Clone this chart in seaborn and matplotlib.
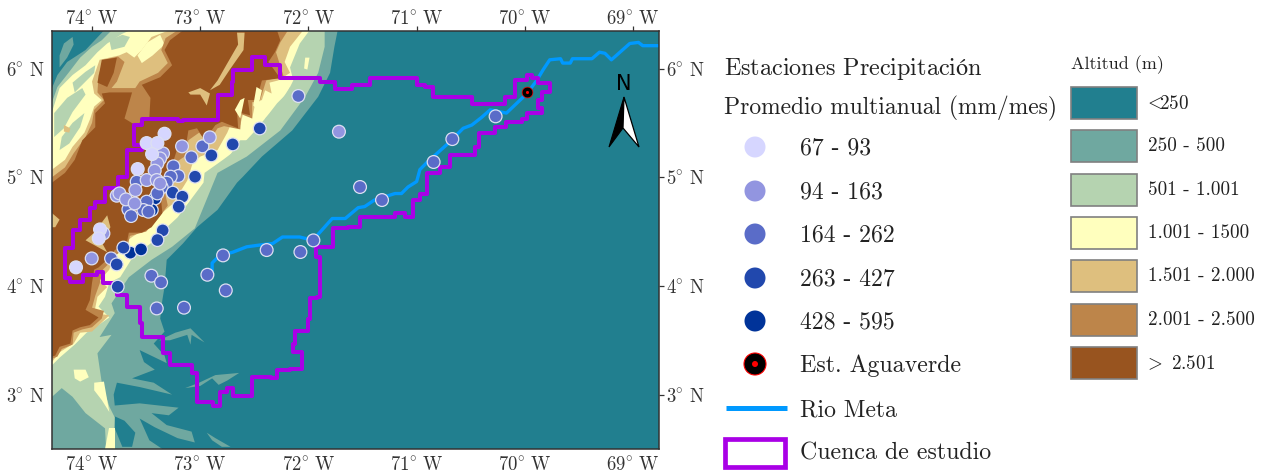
import matplotlib
matplotlib.use('Agg')
import matplotlib.pyplot as plt
import matplotlib.patches as mpatches
import pandas as pd
import seaborn as sns

# estaciones (lon, lat) por rango de precipitacion
est_67_93 = [(-73.33, 5.40), (-73.495, 5.314), (-73.396, 5.314), (-73.445, 5.213), (-73.578, 5.075),
             (-73.926, 4.52), (-73.938, 4.437), (-74.148, 4.171)]
est_94_163 = [(-72.912, 5.367), (-73.168, 5.284), (-73.344, 5.219), (-73.371, 5.173), (-73.396, 5.127),
              (-73.421, 5.06), (-73.495, 4.974), (-73.402, 4.974), (-73.371, 4.943), (-73.599, 4.882),
              (-73.772, 4.83), (-73.747, 4.851), (-73.686, 4.796), (-73.606, 4.759), (-74.003, 4.253),
              (-73.895, 4.483), (-71.718, 5.419)]
est_164_262 = [(-72.98, 5.284), (-73.082, 5.183), (-73.248, 5.10), (-73.202, 5.011), (-73.273, 5.005),
               (-73.587, 4.959), (-73.31, 4.95), (-73.356, 4.907), (-73.396, 4.851), (-73.495, 4.775),
               (-73.664, 4.704), (-73.639, 4.643), (-73.525, 4.698), (-73.479, 4.683), (-73.824, 4.253),
               (-73.451, 4.094), (-73.362, 4.033), (-73.402, 3.793), (-73.15, 3.80), (-72.934, 4.103),
               (-72.764, 3.959), (-72.789, 4.281), (-72.386, 4.33), (-72.074, 4.312), (-71.954, 4.419),
               (-72.093, 5.747), (-71.523, 4.91), (-71.32, 4.79), (-70.843, 5.14), (-70.67, 5.351),
               (-70.27, 5.56)]
est_263_427 = [(-72.897, 5.201), (-72.70, 5.302), (-72.45, 5.449), (-73.048, 5.005), (-73.254, 4.858),
               (-73.165, 4.821), (-73.199, 4.729), (-73.347, 4.511), (-73.396, 4.422), (-73.71, 4.352),
               (-73.772, 4.198), (-73.763, 3.993)]
est_428_595 = [(-73.418, 4.805), (-73.448, 4.698), (-73.646, 4.306), (-73.547, 4.336)]
aguaverde = (-69.977, 5.787)

rangos = ['67 - 93', '94 - 163', '164 - 262', '263 - 427', '428 - 595']
colores_est = ['#D6D6FF', '#9295E0', '#5A6CC8', '#2148AD', '#003399']

rio_meta = [(-72.89, 4.12), (-72.89, 4.21), (-72.82, 4.28), (-72.70, 4.31), (-72.57, 4.36), (-72.42, 4.38),
            (-72.33, 4.39), (-72.24, 4.45), (-72.08, 4.45), (-71.96, 4.42), (-71.78, 4.62), (-71.66, 4.62),
            (-71.54, 4.72), (-71.48, 4.73), (-71.39, 4.79), (-71.20, 4.85), (-71.14, 4.85), (-71.08, 4.91),
            (-71.00, 4.96), (-70.97, 5.07), (-70.90, 5.14), (-70.71, 5.31), (-70.57, 5.45), (-70.49, 5.48),
            (-70.40, 5.55), (-70.32, 5.62), (-70.17, 5.59), (-69.98, 5.77), (-69.89, 5.89), (-69.83, 5.99),
            (-69.77, 6.08), (-69.67, 6.09), (-69.65, 6.05), (-69.58, 6.05), (-69.56, 6.09), (-69.38, 6.09),
            (-69.31, 6.15), (-69.26, 6.14), (-69.20, 6.08), (-69.03, 6.23), (-68.95, 6.24), (-68.91, 6.21),
            (-68.77, 6.21)]

cuenca = [(-74.25, 4.24), (-74.25, 4.07), (-74.20, 4.04), (-74.08, 4.10), (-73.95, 4.13), (-73.90, 4.03),
          (-73.77, 3.92), (-73.68, 3.81), (-73.56, 3.66), (-73.54, 3.53), (-73.34, 3.38), (-73.28, 3.27),
          (-73.08, 3.20), (-73.03, 2.93), (-72.88, 2.90), (-72.82, 3.02), (-72.75, 3.06), (-72.70, 2.99),
          (-72.60, 2.99), (-72.52, 3.16), (-72.35, 3.15), (-72.29, 3.23), (-72.17, 3.24), (-72.06, 3.39),
          (-72.14, 3.47), (-72.12, 3.59), (-72.00, 3.70), (-71.99, 3.89), (-71.92, 3.90), (-71.89, 4.04),
          (-71.89, 4.27), (-71.93, 4.36), (-71.77, 4.40), (-71.77, 4.53), (-71.63, 4.54), (-71.52, 4.63),
          (-71.20, 4.67), (-71.11, 4.63), (-71.03, 4.70), (-71.03, 4.79), (-70.97, 4.85), (-70.90, 4.93),
          (-70.90, 5.04), (-70.78, 5.09), (-70.69, 5.20), (-70.53, 5.20), (-70.46, 5.28), (-70.42, 5.41),
          (-70.28, 5.46), (-70.17, 5.51), (-70.03, 5.54), (-69.98, 5.59), (-69.84, 5.64), (-69.88, 5.71),
          (-69.84, 5.78), (-69.77, 5.80), (-69.77, 5.87), (-69.88, 5.91), (-69.93, 5.94), (-69.98, 5.89),
          (-70.09, 5.74), (-70.16, 5.74), (-70.18, 5.67), (-70.39, 5.67), (-70.49, 5.74), (-70.78, 5.74),
          (-70.85, 5.83), (-70.92, 5.85), (-71.00, 5.91), (-71.36, 5.91), (-71.43, 5.85), (-71.59, 5.85),
          (-71.60, 5.81), (-71.73, 5.81), (-71.75, 5.88), (-71.87, 5.88), (-71.89, 5.91), (-72.12, 5.91),
          (-72.26, 6.03), (-72.40, 6.11), (-72.52, 6.11), (-72.52, 5.99), (-72.60, 5.99), (-72.70, 5.88),
          (-72.71, 5.76), (-72.84, 5.68), (-72.84, 5.53), (-73.16, 5.52), (-73.21, 5.54), (-73.42, 5.54),
          (-73.54, 5.48), (-73.61, 5.41), (-73.61, 5.30), (-73.54, 5.25), (-73.68, 5.18), (-73.68, 5.00),
          (-73.76, 4.90), (-73.88, 4.77), (-73.97, 4.72), (-74.02, 4.61), (-74.11, 4.51), (-74.18, 4.35),
          (-74.25, 4.24)]

# bandas de altitud, una encima de otra
banda_250 = [(-73.89, 6.35), (-71.73, 6.35), (-71.76, 6.20), (-71.80, 5.96), (-71.91, 5.74), (-72.15, 5.43),
             (-72.43, 5.19), (-72.61, 5.00), (-72.66, 4.95), (-72.84, 4.70), (-73.03, 4.54), (-73.16, 4.39),
             (-73.31, 4.24), (-73.33, 3.99), (-73.35, 3.87), (-73.37, 3.70), (-73.33, 3.58), (-73.43, 3.47),
             (-73.33, 3.36), (-73.31, 3.29), (-73.56, 3.41), (-73.52, 3.30), (-73.42, 3.23), (-73.63, 3.15),
             (-73.43, 3.11), (-73.26, 3.00), (-73.56, 3.07), (-73.77, 3.11), (-73.80, 3.00), (-73.79, 2.90),
             (-73.56, 2.92), (-73.20, 2.88), (-73.29, 2.81), (-73.45, 2.83), (-73.31, 2.72), (-73.08, 2.66),
             (-73.05, 2.56), (-73.21, 2.60), (-73.42, 2.70), (-73.56, 2.78), (-73.47, 2.58), (-73.35, 2.50),
             (-74.37, 2.50), (-74.37, 5.82), (-74.32, 5.94), (-74.23, 6.06), (-74.06, 6.17)]
islas_250 = [[(-74.30, 6.12), (-74.26, 6.23), (-74.18, 6.29), (-74.17, 6.22), (-74.23, 6.10), (-74.30, 6.01)],
             [(-73.38, 3.50), (-73.23, 3.57), (-73.09, 3.61), (-72.96, 3.48), (-73.08, 3.55), (-73.09, 3.46),
              (-73.12, 3.55), (-73.28, 3.50)],
             [(-73.14, 3.06), (-73.01, 3.11), (-72.86, 3.18), (-72.64, 3.20), (-72.75, 3.13), (-72.83, 3.09),
              (-72.89, 3.15), (-73.00, 3.08)],
             [(-72.94, 2.65), (-72.86, 2.60), (-72.72, 2.52), (-72.80, 2.52), (-72.89, 2.58)]]
canal_bajo = [(-73.79, 2.80), (-73.70, 2.76), (-73.60, 2.65), (-73.63, 2.52), (-73.72, 2.52), (-73.79, 2.69)]
banda_500 = [(-73.82, 6.35), (-71.85, 6.35), (-71.85, 6.20), (-71.91, 5.96), (-72.03, 5.74), (-72.26, 5.43),
             (-72.57, 5.19), (-72.84, 5.04), (-73.05, 4.53), (-73.26, 4.36), (-73.45, 4.24), (-73.66, 4.08),
             (-73.82, 3.84), (-73.79, 3.75), (-73.93, 3.53), (-73.82, 3.55), (-73.95, 3.38), (-73.91, 3.11),
             (-73.84, 2.89), (-73.79, 2.79), (-73.80, 2.50), (-74.37, 2.50), (-74.37, 5.69), (-74.32, 5.83),
             (-74.21, 5.97), (-74.11, 6.10), (-74.00, 6.20), (-73.91, 6.26)]
mancha_250 = [(-74.37, 2.98), (-74.28, 3.06), (-74.18, 2.98), (-74.06, 2.83), (-73.88, 2.69), (-73.87, 2.50),
              (-74.37, 2.50)]
banda_1000 = [(-73.65, 6.35), (-71.99, 6.35), (-72.08, 6.23), (-72.17, 6.01), (-72.14, 5.89), (-72.20, 5.77),
              (-72.29, 5.68), (-72.36, 5.59), (-72.49, 5.43), (-72.63, 5.28), (-72.79, 5.16), (-72.96, 5.04),
              (-72.97, 4.95), (-73.09, 4.79), (-73.21, 4.63), (-73.34, 4.51), (-73.46, 4.39), (-73.62, 4.27),
              (-73.74, 4.08), (-73.84, 4.03), (-73.88, 3.90), (-73.94, 3.81), (-73.84, 3.71), (-73.97, 3.62),
              (-74.05, 3.57), (-74.16, 3.46), (-74.30, 3.34), (-74.37, 3.27), (-74.37, 5.60), (-74.30, 5.82),
              (-74.18, 5.94), (-74.06, 6.03), (-73.95, 6.15), (-73.86, 6.23), (-73.72, 6.32)]
manchas_1000 = [[(-74.17, 3.23), (-74.06, 3.23), (-74.03, 3.16), (-74.11, 3.12), (-74.16, 3.15)],
                [(-73.98, 3.11), (-73.89, 3.12), (-73.86, 2.95), (-73.84, 2.84), (-73.91, 2.95), (-73.98, 3.04)],
                [(-73.84, 2.69), (-73.79, 2.69), (-73.79, 2.50), (-73.88, 2.50)],
                [(-72.03, 6.10), (-71.99, 6.10), (-72.01, 5.99), (-72.04, 6.00)]]
manchas_500 = [[(-74.35, 5.59), (-74.23, 5.73), (-74.09, 5.82), (-74.06, 5.76), (-74.18, 5.60), (-74.26, 5.45),
                (-74.35, 5.37)],
               [(-74.18, 5.87), (-74.06, 5.97), (-73.97, 6.03), (-73.98, 5.96), (-74.09, 5.85), (-74.16, 5.78)],
               [(-74.28, 5.37), (-74.18, 5.50), (-74.07, 5.59), (-74.11, 5.46), (-74.21, 5.31), (-74.30, 5.25)],
               [(-73.84, 6.26), (-73.72, 6.31), (-73.65, 6.29), (-73.70, 6.20), (-73.82, 6.17)],
               [(-72.17, 5.83), (-72.14, 5.74), (-72.26, 5.62), (-72.36, 5.53), (-72.40, 5.54), (-72.28, 5.66)],
               [(-72.63, 5.34), (-72.56, 5.34), (-72.68, 5.20), (-72.74, 5.18)]]
banda_1500 = [(-74.37, 5.07), (-74.25, 5.16), (-74.18, 5.28), (-74.07, 5.41), (-74.02, 5.53), (-73.98, 5.65),
              (-73.91, 5.71), (-73.98, 5.77), (-74.00, 5.88), (-73.93, 6.08), (-73.75, 6.12), (-73.68, 6.15),
              (-73.61, 6.10), (-73.54, 6.17), (-73.45, 6.29), (-73.29, 6.35), (-72.05, 6.35), (-72.17, 6.20),
              (-72.22, 6.06), (-72.17, 5.96), (-72.28, 5.89), (-72.36, 5.87), (-72.34, 5.77), (-72.40, 5.80),
              (-72.43, 5.71), (-72.49, 5.69), (-72.52, 5.54), (-72.60, 5.60), (-72.63, 5.48), (-72.72, 5.48),
              (-72.75, 5.41), (-72.84, 5.25), (-73.00, 5.19), (-73.07, 5.13), (-73.12, 4.97), (-73.25, 4.76),
              (-73.40, 4.63), (-73.49, 4.54), (-73.63, 4.45), (-73.71, 4.39), (-73.79, 4.33), (-73.84, 4.15),
              (-73.93, 4.05), (-73.86, 3.99), (-73.95, 3.90), (-73.98, 3.75), (-73.84, 3.73), (-74.00, 3.58),
              (-74.11, 3.57), (-74.17, 3.47), (-74.30, 3.39), (-74.37, 3.30)]
mancha_tan = [(-74.26, 5.48), (-74.20, 5.45), (-74.21, 5.41), (-74.26, 5.42)]
mancha_meseta = [(-73.58, 6.12), (-73.49, 6.24), (-73.37, 6.31), (-73.33, 6.22), (-73.44, 6.12), (-73.54, 6.05)]
banda_2000 = [(-74.37, 5.00), (-74.25, 5.09), (-74.17, 5.22), (-74.06, 5.37), (-74.00, 5.50), (-73.98, 5.62),
              (-73.89, 5.71), (-73.95, 5.78), (-73.94, 5.94), (-73.89, 6.08), (-73.76, 6.11), (-73.70, 6.06),
              (-73.77, 5.88), (-73.82, 5.82), (-73.60, 5.82), (-73.56, 5.88), (-73.39, 5.96), (-73.30, 6.05),
              (-73.36, 6.17), (-73.32, 6.28), (-73.21, 6.35), (-72.19, 6.35), (-72.26, 6.24), (-72.30, 6.15),
              (-72.23, 5.93), (-72.39, 5.89), (-72.45, 5.70), (-72.52, 5.69), (-72.52, 5.54), (-72.62, 5.58),
              (-72.63, 5.44), (-72.78, 5.47), (-72.84, 5.45), (-72.93, 5.31), (-73.01, 5.41), (-73.11, 5.34),
              (-73.13, 5.20), (-73.22, 5.14), (-73.33, 4.88), (-73.30, 4.74), (-73.39, 4.62), (-73.50, 4.50),
              (-73.65, 4.46), (-73.67, 4.37), (-73.77, 4.29), (-73.83, 4.22), (-73.90, 4.15), (-73.93, 4.02),
              (-73.97, 3.91), (-74.00, 3.80), (-73.89, 3.77), (-73.91, 3.70), (-74.00, 3.62), (-74.09, 3.60),
              (-74.17, 3.57), (-74.18, 3.46), (-74.28, 3.42), (-74.32, 3.35), (-74.37, 3.33)]
banda_2500 = [(-74.37, 4.95), (-74.25, 5.04), (-74.16, 5.16), (-74.09, 5.34), (-73.97, 5.46), (-73.97, 5.59),
              (-73.88, 5.68), (-73.91, 5.77), (-73.84, 5.78), (-73.63, 5.78), (-73.70, 5.54), (-73.60, 5.48),
              (-73.47, 5.55), (-73.46, 5.73), (-73.54, 5.85), (-73.37, 5.92), (-73.26, 6.03), (-73.33, 6.17),
              (-73.28, 6.26), (-73.16, 6.35), (-72.29, 6.35), (-72.26, 6.26), (-72.31, 6.15), (-72.37, 6.06),
              (-72.26, 5.91), (-72.43, 5.89), (-72.48, 5.71), (-72.56, 5.71), (-72.54, 5.57), (-72.66, 5.60),
              (-72.65, 5.45), (-72.80, 5.51), (-72.86, 5.48), (-72.96, 5.34), (-73.03, 5.45), (-73.11, 5.43),
              (-73.13, 5.30), (-73.21, 5.27), (-73.26, 5.11), (-73.37, 4.88), (-73.35, 4.67), (-73.45, 4.54),
              (-73.54, 4.49), (-73.66, 4.49), (-73.68, 4.39), (-73.79, 4.33), (-73.84, 4.26), (-73.94, 4.17),
              (-73.98, 4.15), (-74.00, 4.03), (-74.02, 3.87), (-74.06, 3.78), (-73.94, 3.71), (-74.02, 3.64),
              (-74.11, 3.62), (-74.18, 3.59), (-74.20, 3.47), (-74.30, 3.44), (-74.34, 3.36), (-74.37, 3.35)]
isla_2500 = [(-73.95, 5.87), (-73.91, 6.08), (-73.77, 6.10), (-73.80, 5.96), (-73.86, 5.83)]
vetas_1500 = [[(-72.66, 6.33), (-72.59, 6.33), (-72.60, 6.17), (-72.72, 6.00), (-72.82, 5.85), (-72.91, 5.80),
               (-72.84, 5.89), (-72.76, 6.03), (-72.65, 6.22)],
              [(-73.11, 5.78), (-73.00, 5.82), (-72.91, 5.77), (-72.94, 5.66), (-73.00, 5.76), (-73.09, 5.76)],
              [(-74.37, 4.67), (-74.30, 4.61), (-74.34, 4.54), (-74.37, 4.54)],
              [(-74.06, 4.42), (-73.98, 4.49), (-73.86, 4.65), (-73.83, 4.54), (-73.91, 4.40), (-73.86, 4.31)]]
dedos_1000 = [[(-72.48, 5.83), (-72.43, 5.80), (-72.47, 5.62), (-72.51, 5.66)],
              [(-72.63, 5.71), (-72.59, 5.73), (-72.63, 5.54), (-72.68, 5.62)]]

altitudes = ['$\\!\\!<\\!\\!$250', '250 - 500', '501 - 1.001', '1.001 - 1500', '1.501 - 2.000', '2.001 - 2.500',
             '$\\!\\!>$ 2.501']
colores_alt = ['#217F8F', '#6FA8A0', '#B5D3B0', '#FFFFBE', '#DEBF7E', '#BD854A', '#98541F']

x_ticks = [-74, -73, -72, -71, -70, -69]
y_ticks = [3, 4, 5, 6]

sns.set_style('white')
plt.rcParams['font.family'] = ['cmr10', 'DejaVu Serif']
plt.rcParams['mathtext.fontset'] = 'cm'
plt.rcParams['axes.formatter.use_mathtext'] = True
plt.rcParams['axes.unicode_minus'] = False

fig = plt.figure(figsize=(12.64, 4.73), dpi=100)
ax = fig.add_axes([52 / 1264, 24 / 473, 607 / 1264, 418 / 473])
ax.set_facecolor(colores_alt[0])

capas = [(banda_250, 1)] + [(p, 1) for p in islas_250] + [(canal_bajo, 0), (banda_500, 2), (mancha_250, 1)]
capas += [(banda_1000, 3)] + [(p, 2) for p in manchas_500] + [(p, 3) for p in manchas_1000]
capas += [(banda_1500, 4), (mancha_tan, 4), (mancha_meseta, 3), (banda_2000, 5), (banda_2500, 6), (isla_2500, 6)]
capas += [(p, 4) for p in vetas_1500] + [(p, 3) for p in dedos_1000]
for poligono, clase in capas:
    lon, lat = zip(*poligono)
    ax.fill(lon, lat, color=colores_alt[clase], lw=0, zorder=1)

# rio y cuenca
rio = pd.DataFrame(rio_meta, columns=['lon', 'lat'])
sns.lineplot(data=rio, x='lon', y='lat', sort=False, estimator=None, color='#0099FF', lw=2.4, ax=ax, zorder=2)
borde = pd.DataFrame(cuenca, columns=['lon', 'lat'])
sns.lineplot(data=borde, x='lon', y='lat', sort=False, estimator=None, color='#A900E6', lw=2.9,
             drawstyle='steps-post', ax=ax, zorder=3)

# estaciones
orden = [(est_428_595, 4), (est_164_262, 2), (est_94_163, 1), (est_263_427, 3), (est_67_93, 0)]
filas = [(lon, lat, rangos[i]) for grupo, i in orden for lon, lat in grupo]
estaciones = pd.DataFrame(filas, columns=['lon', 'lat', 'rango'])
sns.scatterplot(data=estaciones, x='lon', y='lat', hue='rango', hue_order=rangos, palette=colores_est,
                s=85, edgecolor='#DDE0F2', linewidth=0.9, legend=False, ax=ax, zorder=4)
sns.scatterplot(x=[aguaverde[0]], y=[aguaverde[1]], color='black', edgecolor='red', linewidth=0.5, s=60,
                ax=ax, zorder=5)
sns.scatterplot(x=[aguaverde[0]], y=[aguaverde[1]], color='red', linewidth=0, s=5, ax=ax, zorder=6)

ax.set_xlim(-74.37, -68.76)
ax.set_ylim(2.50, 6.345)
ax.set_xticks(x_ticks)
ax.set_yticks(y_ticks)
ax.set_xticklabels([f'{abs(v)}$\\!^\\circ\\!$ W' for v in x_ticks])
ax.set_yticklabels([f'{v}$\\!^\\circ\\!$ N' for v in y_ticks])
ax.set_xlabel('')
ax.set_ylabel('')
ax.tick_params(top=True, right=True, labeltop=True, labelright=True, length=3.5, width=0.9,
               color='#333333', labelcolor='#333333', labelsize=13.5, pad=1.5)
for t in ax.xaxis.get_major_ticks():
    t.label2.set_va('baseline')
for lado in ax.spines.values():
    lado.set_color('#333333')
    lado.set_linewidth(1.1)

# capa en pixeles para leyendas y flecha norte
ley = fig.add_axes([0, 0, 1, 1], facecolor='none')
ley.set_xlim(0, 1264)
ley.set_ylim(473, 0)
ley.axis('off')

ley.text(724, 69, 'Estaciones Precipitaci$\\mathrm{ó}$n', fontsize=17.4, va='center', color='#222222')
ley.text(724, 108, 'Promedio multianual (mm/mes)', fontsize=16.95, va='center', color='#222222')
y_rangos = [147, 191, 234, 278, 321]
for y, etiqueta, color in zip(y_rangos, rangos, colores_est):
    ley.add_patch(mpatches.Circle((755, y), 10.5, color=color, lw=0))
    ley.text(800, y + 1, etiqueta, fontsize=17.1, va='center', color='#222222')
ley.add_patch(mpatches.Circle((755, 364), 11, facecolor='black', edgecolor='red', lw=0.8))
ley.add_patch(mpatches.Circle((755, 364), 3, color='red', lw=0))
ley.text(800, 366, 'Est. Aguaverde', fontsize=17.2, va='center', color='#222222')
ley.plot([726, 787], [408, 408], color='#0099FF', lw=3.6, solid_capstyle='butt')
ley.text(800, 410, 'Rio Meta', fontsize=17.1, va='center', color='#222222')
ley.add_patch(mpatches.Rectangle((725, 439), 60, 28, facecolor='white', edgecolor='#A900E6', lw=3.4))
ley.text(800, 453, 'Cuenca de estudio', fontsize=17.2, va='center', color='#222222')

ley.text(1071, 65, 'Altitud (m)', fontsize=13, va='center', color='#222222')
y_cajas = [87, 130, 174, 217, 260, 304, 347]
for y, etiqueta, color in zip(y_cajas, altitudes, colores_alt):
    ley.add_patch(mpatches.Rectangle((1071, y), 66, 32, facecolor=color, edgecolor='#808080', lw=1.2))
    ley.text(1148, y + 16.5, etiqueta, fontsize=13.8, va='center', color='#222222')

ley.text(624, 84, 'N', fontsize=15, family='DejaVu Sans', ha='center', va='center', color='black')
ley.add_patch(mpatches.Polygon([(624, 97), (609, 147), (623, 128)], closed=True, facecolor='black',
                               edgecolor='black', lw=0.8))
ley.add_patch(mpatches.Polygon([(624, 97), (639, 147), (623, 128)], closed=True, facecolor='white',
                               edgecolor='black', lw=0.9))

fig.savefig('out.png', dpi=100)
